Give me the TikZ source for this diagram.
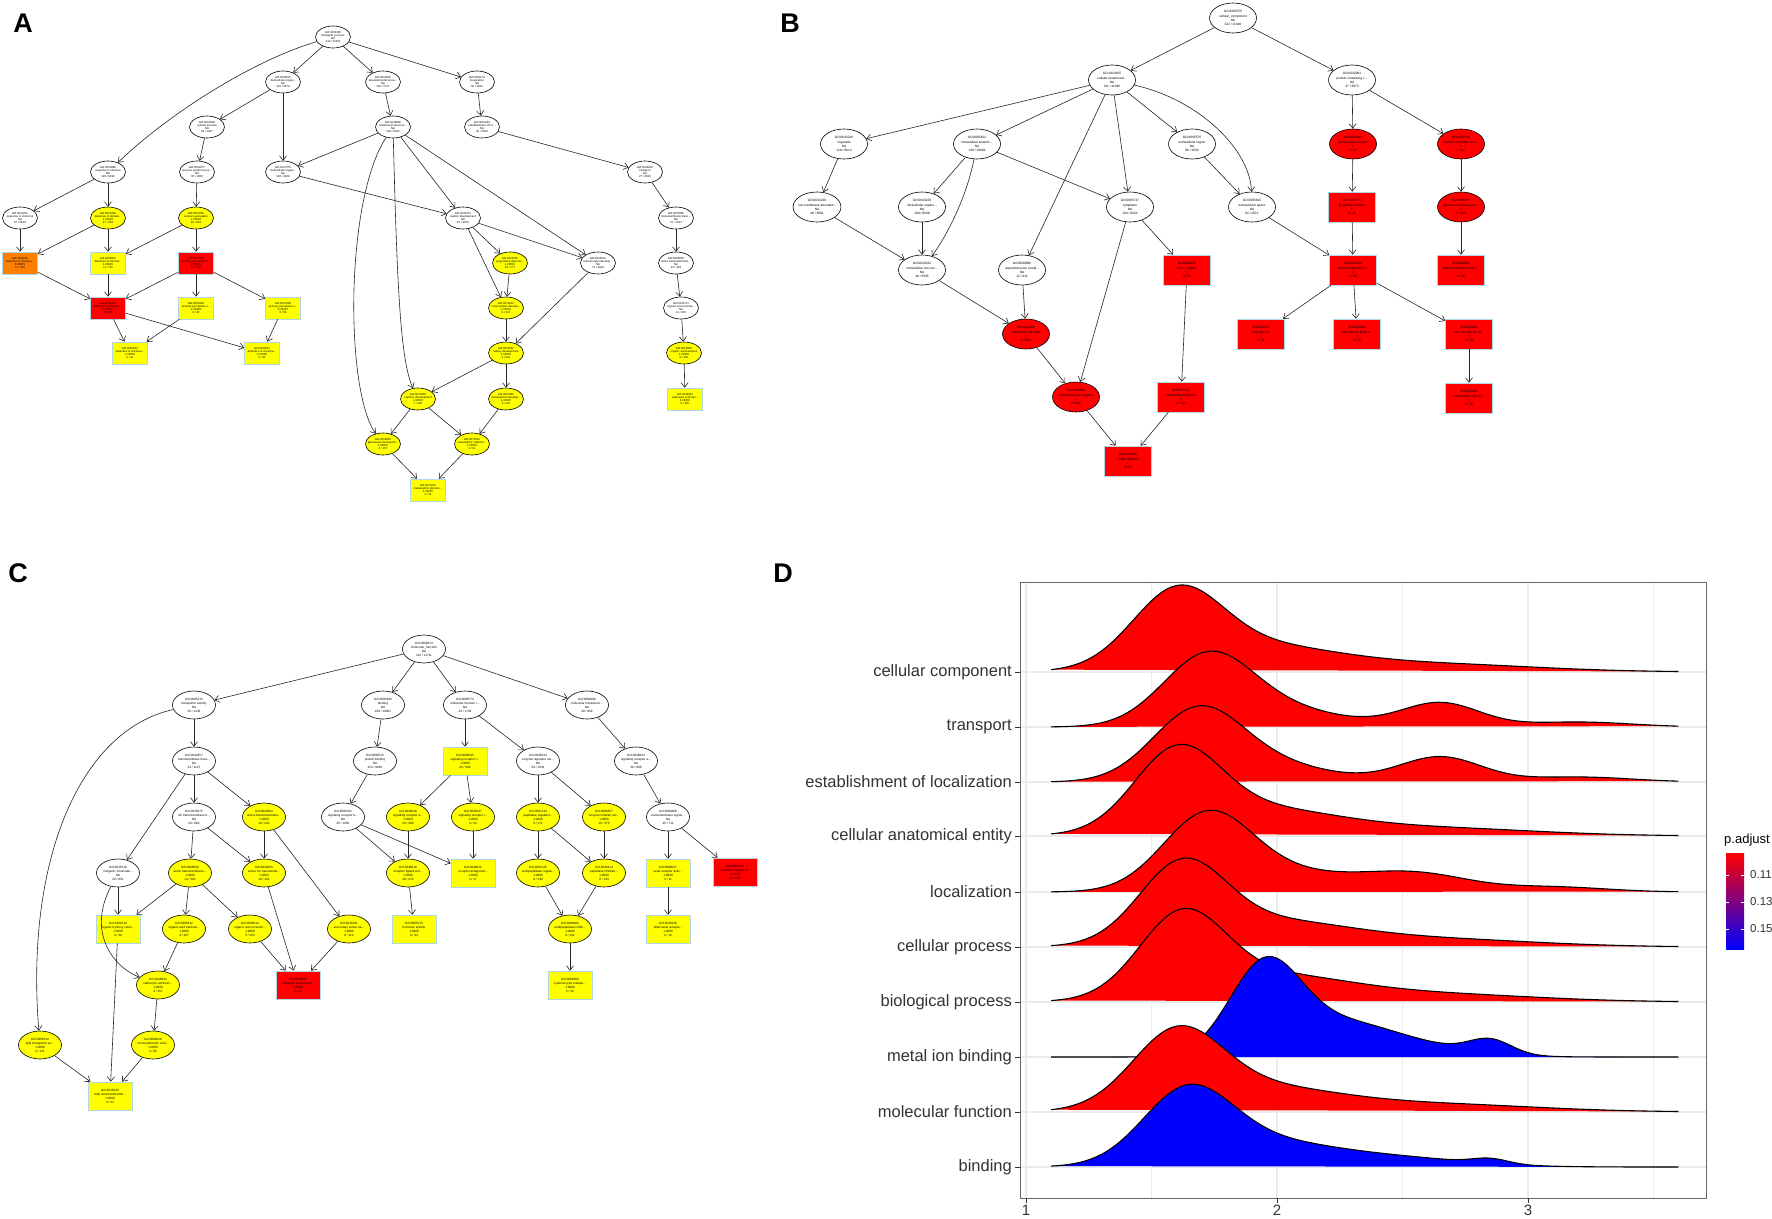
\documentclass[tikz,border=0pt]{standalone}
\usepackage{fontspec}
\setmainfont{Liberation Sans}
\usetikzlibrary{shapes.geometric,arrows.meta}
\definecolor{goyellow}{RGB}{255,255,0}
\definecolor{goorange}{RGB}{255,128,0}
\definecolor{gored}{RGB}{255,0,0}
\definecolor{boxline}{RGB}{173,216,230}
\definecolor{rred}{RGB}{255,0,0}
\definecolor{rblue}{RGB}{0,0,255}
\definecolor{gridgrey}{RGB}{235,235,235}
\definecolor{pmid}{RGB}{196,0,140}
\tikzstyle{goarrow} = [draw=black!85, line width=0.6pt, -{Straight Barb[length=4.5pt,width=7pt]}]
\tikzstyle{ellA} = [ellipse, draw=black, line width=0.6pt, fill=white, minimum width=35pt, minimum height=22pt, inner xsep=-3pt, inner ysep=1pt, align=center, font=\fontsize{2.8}{3.3}\selectfont]
\tikzstyle{boxA} = [rectangle, draw=boxline, line width=0.6pt, minimum width=35pt, minimum height=22pt, inner sep=0pt, align=center, font=\fontsize{2.8}{3.3}\selectfont]
\tikzstyle{ellB} = [ellipse, draw=black, line width=0.6pt, fill=white, minimum width=47pt, minimum height=30pt, inner xsep=-2pt, inner ysep=1pt, align=center, font=\fontsize{3.2}{4.2}\selectfont]
\tikzstyle{boxB} = [rectangle, draw=boxline, line width=0.6pt, fill=gored, minimum width=47pt, minimum height=30pt, inner sep=0pt, align=center, font=\fontsize{3.2}{4.2}\selectfont]
\tikzstyle{ellC} = [ellipse, draw=black, line width=0.6pt, fill=white, minimum width=43pt, minimum height=28pt, inner xsep=-2.5pt, inner ysep=1pt, align=center, font=\fontsize{3.1}{4}\selectfont]
\tikzstyle{boxC} = [rectangle, draw=boxline, line width=0.6pt, fill=goyellow, minimum width=44pt, minimum height=28pt, inner sep=0pt, align=center, font=\fontsize{3.1}{4}\selectfont]
\tikzstyle{panlab} = [inner sep=0pt, font=\fontsize{27}{27}\selectfont\bfseries]
\tikzstyle{redridge} = [draw=black, line width=1.1pt, fill=rred]
\tikzstyle{blueridge} = [draw=black, line width=1.1pt, fill=rblue]
\tikzstyle{gridmajor} = [draw=gridgrey, line width=1.4pt]
\tikzstyle{gridminor} = [draw=gridgrey, line width=0.7pt]
\tikzstyle{ylab} = [anchor=east, inner sep=0pt, text=black!80, font=\fontsize{16.5}{18}\selectfont]
\tikzstyle{xlab} = [anchor=center, inner sep=0pt, text=black!80, font=\fontsize{15}{16}\selectfont]
\tikzstyle{tick} = [draw=black!80, line width=0.8pt]

\begin{document}
\begin{tikzpicture}[x=1pt, y=-1pt, declare function={gau(\t,\m,\s)=exp(-((\t-\m)/\s)*((\t-\m)/\s));}]
	\fill[white] (0,0) rectangle (1772,1218);
	\useasboundingbox (0,0) rectangle (1772,1218);

	% A: biological process
	\node (labA) [panlab] at (23,23) {A};
	\node (bp) [ellA] at (333,37) {GO:0008150\\biological\_process\\NA\\210 / 11378};
	\node (mop) [ellA] at (283,82) {GO:0032501\\multicellular organi...\\NA\\100 / 5676};
	\node (dev) [ellA] at (383,82) {GO:0032502\\developmental proce...\\NA\\115 / 5737};
	\node (loc) [ellA] at (477,82) {GO:0051179\\localization\\NA\\35 / 3260};
	\node (sysp) [ellA] at (207,127) {GO:0003008\\system process\\NA\\34 / 1487};
	\node (asd) [ellA] at (393,127) {GO:0048856\\anatomical structure...\\NA\\106 / 5260};
	\node (estl) [ellA] at (482,127) {GO:0051234\\establishment of loc...\\NA\\29 / 2584};
	\node (rts) [ellA] at (108,172) {GO:0050896\\response to stimulus\\NA\\126 / 6490};
	\node (nsp) [ellA] at (197,172) {GO:0050877\\nervous system proce...\\NA\\30 / 1066};
	\node (mod) [ellA] at (283,172) {GO:0007275\\multicellular organi...\\NA\\100 / 4930};
	\node (trn) [ellA] at (645,172) {GO:0006810\\transport\\NA\\27 / 2526};
	\node (rtc) [ellA] at (20,218) {GO:0042221\\response to chemical\\NA\\57 / 2619};
	\node (dets) [ellA, fill=goyellow] at (108,218) {GO:0051606\\detection of stimulu...\\1.00000\\27 / 259};
	\node (senp) [ellA, fill=goyellow] at (196,218) {GO:0007600\\sensory perception\\1.00000\\29 / 815};
	\node (sysd) [ellA] at (463,218) {GO:0048731\\system development\\NA\\87 / 3876};
	\node (tmt) [ellA] at (676,218) {GO:0055085\\transmembrane trans...\\NA\\21 / 1541};
	\node (dcs) [boxA, fill=goorange] at (20,263) {GO:0009593\\detection of chemica...\\0.08629\\14 / 181};
	\node (dses) [boxA, fill=goyellow] at (108,263) {GO:0009581\\detection of externa...\\0.29620\\14 / 115};
	\node (spc) [boxA, fill=gored] at (196,263) {GO:0007606\\sensory perception o...\\0.01012\\11 / 102};
	\node (ugsd) [ellA, fill=goyellow] at (510,263) {GO:0001655\\urogenital system de...\\1.00000\\10 / 277};
	\node (aod) [ellA] at (598,263) {GO:0048513\\animal organ develop...\\NA\\72 / 2849};
	\node (atr) [ellA] at (676,263) {GO:0098656\\anion transmembrane...\\NA\\12 / 328};
	\node (dcsp) [boxA, fill=gored] at (108,308) {GO:0050907\\detection of chemica...\\0.01050\\10 / 80};
	\node (spt) [boxA, fill=goyellow] at (196,308) {GO:0050909\\sensory perception o...\\0.21958\\6 / 40};
	\node (sps) [boxA, fill=goyellow] at (283,308) {GO:0007608\\sensory perception o...\\0.35457\\5 / 56};
	\node (rsd) [ellA, fill=goyellow] at (506,308) {GO:0072001\\renal system develop...\\1.00000\\9 / 247};
	\node (oat) [ellA] at (681,308) {GO:0015711\\organic anion transp...\\NA\\12 / 435};
	\node (dcst) [boxA, fill=goyellow] at (130,353) {GO:0050912\\detection of chemica...\\1.00000\\3 / 31};
	\node (dcss) [boxA, fill=goyellow] at (262,353) {GO:0050911\\detection of chemica...\\0.27035\\5 / 30};
	\node (kid) [ellA, fill=goyellow] at (506,353) {GO:0001822\\kidney development\\1.00000\\9 / 242};
	\node (orgt) [ellA, fill=goyellow] at (684,353) {GO:0015849\\organic acid transport\\1.00000\\9 / 330};
	\node (nep) [ellA, fill=goyellow] at (418,399) {GO:0072006\\nephron development\\1.00000\\7 / 130};
	\node (mnd) [ellA, fill=goyellow] at (506,399) {GO:0001656\\metanephros develop...\\1.00000\\5 / 110};
	\node (cat) [boxA, fill=goyellow] at (685,399) {GO:0046942\\carboxylic acid tran...\\1.00000\\9 / 325};
	\node (glo) [ellA, fill=goyellow] at (383,444) {GO:0032835\\glomerulus developme...\\1.00000\\4 / 107};
	\node (mnn) [ellA, fill=goyellow] at (472,444) {GO:0072210\\metanephric nephron...\\1.00000\\4 / 61};
	\node (mgd) [boxA, fill=goyellow] at (428,490) {GO:0072224\\metanephric glomeru...\\1.00000\\2 / 14};

	\draw [goarrow] (bp) .. controls (260,58) and (175,108) .. (rts);
	\draw [goarrow] (bp) -- (mop);
	\draw [goarrow] (bp) -- (dev);
	\draw [goarrow] (bp) -- (loc);
	\draw [goarrow] (mop) -- (sysp);
	\draw [goarrow] (mop) -- (mod);
	\draw [goarrow] (dev) -- (asd);
	\draw [goarrow] (loc) -- (estl);
	\draw [goarrow] (sysp) -- (nsp);
	\draw [goarrow] (asd) -- (mod);
	\draw [goarrow] (asd) -- (sysd);
	\draw [goarrow] (asd) -- (aod);
	\draw [goarrow] (asd) .. controls (345,200) and (345,390) .. (glo);
	\draw [goarrow] (asd) .. controls (397,280) and (400,360) .. (nep);
	\draw [goarrow] (estl) -- (trn);
	\draw [goarrow] (rts) -- (rtc);
	\draw [goarrow] (rts) -- (dets);
	\draw [goarrow] (nsp) -- (senp);
	\draw [goarrow] (mod) -- (sysd);
	\draw [goarrow] (sysd) -- (aod);
	\draw [goarrow] (sysd) -- (ugsd);
	\draw [goarrow] (sysd) -- (rsd);
	\draw [goarrow] (trn) -- (tmt);
	\draw [goarrow] (tmt) -- (atr);
	\draw [goarrow] (atr) -- (oat);
	\draw [goarrow] (oat) -- (orgt);
	\draw [goarrow] (orgt) -- (cat);
	\draw [goarrow] (rtc) -- (dcs);
	\draw [goarrow] (dets) -- (dcs);
	\draw [goarrow] (dets) -- (dses);
	\draw [goarrow] (senp) -- (dses);
	\draw [goarrow] (senp) -- (spc);
	\draw [goarrow] (aod) -- (kid);
	\draw [goarrow] (ugsd) -- (rsd);
	\draw [goarrow] (dcs) -- (dcsp);
	\draw [goarrow] (dses) -- (dcsp);
	\draw [goarrow] (spc) -- (dcsp);
	\draw [goarrow] (spc) -- (spt);
	\draw [goarrow] (spc) -- (sps);
	\draw [goarrow] (rsd) -- (kid);
	\draw [goarrow] (dcsp) -- (dcst);
	\draw [goarrow] (dcsp) -- (dcss);
	\draw [goarrow] (spt) -- (dcst);
	\draw [goarrow] (sps) -- (dcss);
	\draw [goarrow] (kid) -- (nep);
	\draw [goarrow] (kid) -- (mnd);
	\draw [goarrow] (nep) -- (glo);
	\draw [goarrow] (nep) -- (mnn);
	\draw [goarrow] (mnd) -- (mnn);
	\draw [goarrow] (glo) -- (mgd);
	\draw [goarrow] (mnn) -- (mgd);

	% B: cellular component
	\node (labB) [panlab] at (790,23) {B};
	\node (cc) [ellB] at (1233,18) {GO:0005575\\cellular\_component\\NA\\222 / 11840};
	\node (cae) [ellB] at (1112,80) {GO:0110165\\cellular anatomical...\\NA\\211 / 11346};
	\node (pcc) [ellB] at (1352,80) {GO:0032991\\protein-containing c...\\NA\\47 / 3973};
	\node (org) [ellB] at (844,144) {GO:0043226\\organelle\\NA\\120 / 9613};
	\node (iae) [ellB] at (977,144) {GO:0005622\\intracellular anatom...\\NA\\138 / 10039};
	\node (exr) [ellB] at (1192,144) {GO:0005576\\extracellular region\\NA\\86 / 3030};
	\node (plc) [ellB, fill=gored] at (1353,144) {GO:0032994\\protein-lipid complex\\1\\3 / 32};
	\node (mpc) [ellB, fill=gored] at (1461,144) {GO:0098796\\membrane protein com...\\1\\7 / 847};
	\node (nmo) [ellB] at (817,207) {GO:0043228\\non-membrane-bounded...\\NA\\49 / 3601};
	\node (ino) [ellB] at (922,207) {GO:0043229\\intracellular organe...\\NA\\108 / 8939};
	\node (cyt) [ellB] at (1130,207) {GO:0005737\\cytoplasm\\NA\\103 / 8424};
	\node (exs) [ellB] at (1252,207) {GO:0005615\\extracellular space\\NA\\62 / 2511};
	\node (lpp) [boxB] at (1352,207) {GO:1990777\\lipoprotein particle\\1\\3 / 30};
	\node (pmp) [ellB, fill=gored] at (1461,207) {GO:0098797\\plasma membrane prot...\\1\\5 / 392};
	\node (inm) [ellB] at (922,270) {GO:0043232\\intracellular non-me...\\NA\\49 / 3595};
	\node (smc) [ellB] at (1022,270) {GO:0099080\\supramolecular compl...\\NA\\12 / 911};
	\node (por) [boxB] at (1187,270) {GO:0046930\\pore complex\\1\\4 / 51};
	\node (plp) [boxB] at (1353,270) {GO:0034358\\plasma lipoprotein p...\\1\\3 / 28};
	\node (pms) [boxB] at (1461,270) {GO:0098802\\plasma membrane sign...\\1\\4 / 96};
	\node (smf) [ellB, fill=gored] at (1026,334) {GO:0099512\\supramolecular fiber\\1\\8 / 680};
	\node (chy) [boxB] at (1261,334) {GO:0042627\\chylomicron\\1\\3 / 11};
	\node (hdl) [boxB] at (1357,334) {GO:0034364\\high-density lipopro...\\1\\3 / 22};
	\node (vld) [boxB] at (1469,334) {GO:0034361\\very-low-density lip...\\1\\3 / 14};
	\node (smp) [ellB, fill=gored] at (1076,397) {GO:0099081\\supramolecular polymer\\1\\8 / 682};
	\node (imf) [boxB] at (1181,397) {GO:0005882\\intermediate filament\\1\\4 / 104};
	\node (ldl) [boxB] at (1469,398) {GO:0034363\\intermediate-density...\\1\\2 / 12};
	\node (ker) [boxB] at (1128,461) {GO:0045095\\keratin filament\\1\\3 / 92};

	\draw [goarrow] (cc) -- (cae);
	\draw [goarrow] (cc) -- (pcc);
	\draw [goarrow] (cae) -- (org);
	\draw [goarrow] (cae) -- (iae);
	\draw [goarrow] (cae) -- (cyt);
	\draw [goarrow] (cae) -- (exr);
	\draw [goarrow] (cae) -- (smc);
	\draw [goarrow] (cae) .. controls (1200,100) and (1250,150) .. (exs);
	\draw [goarrow] (pcc) -- (plc);
	\draw [goarrow] (pcc) -- (mpc);
	\draw [goarrow] (org) -- (nmo);
	\draw [goarrow] (iae) -- (ino);
	\draw [goarrow] (iae) -- (cyt);
	\draw [goarrow] (iae) .. controls (968,190) and (952,228) .. (inm);
	\draw [goarrow] (exr) -- (exs);
	\draw [goarrow] (plc) -- (lpp);
	\draw [goarrow] (mpc) -- (pmp);
	\draw [goarrow] (nmo) -- (inm);
	\draw [goarrow] (ino) -- (inm);
	\draw [goarrow] (cyt) -- (por);
	\draw [goarrow] (cyt) -- (smp);
	\draw [goarrow] (exs) -- (plp);
	\draw [goarrow] (lpp) -- (plp);
	\draw [goarrow] (pmp) -- (pms);
	\draw [goarrow] (inm) -- (smf);
	\draw [goarrow] (smc) -- (smf);
	\draw [goarrow] (plp) -- (chy);
	\draw [goarrow] (plp) -- (hdl);
	\draw [goarrow] (plp) -- (vld);
	\draw [goarrow] (smf) -- (smp);
	\draw [goarrow] (por) -- (imf);
	\draw [goarrow] (vld) -- (ldl);
	\draw [goarrow] (smp) -- (ker);
	\draw [goarrow] (imf) -- (ker);

	% C: molecular function
	\node (labC) [panlab] at (18,573) {C};
	\node (mfn) [ellC] at (424,649) {GO:0003674\\molecular\_function\\NA\\212 / 11711};
	\node (trac) [ellC] at (194,705) {GO:0005215\\transporter activity\\NA\\25 / 1236};
	\node (bind) [ellC] at (383,705) {GO:0005488\\binding\\NA\\160 / 10001};
	\node (mfreg) [ellC] at (465,705) {GO:0098772\\molecular function r...\\NA\\43 / 1743};
	\node (mtrd) [ellC] at (587,705) {GO:0060089\\molecular transducer...\\NA\\30 / 869};
	\node (tmtr) [ellC] at (194,761) {GO:0022857\\transmembrane trans...\\NA\\23 / 1147};
	\node (pbind) [ellC] at (375,761) {GO:0005515\\protein binding\\NA\\153 / 9665};
	\node (rreg) [boxC] at (465,761) {GO:0030545\\signaling receptor r...\\1.0000\\25 / 399};
	\node (ereg) [ellC] at (538,761) {GO:0030234\\enzyme regulator act...\\NA\\54 / 1034};
	\node (sigr) [ellC] at (636,761) {GO:0038023\\signaling receptor a...\\NA\\30 / 809};
	\node (iontr) [ellC] at (194,817) {GO:0015075\\ion transmembrane tr...\\NA\\20 / 884};
	\node (acttr) [ellC, fill=goyellow] at (264,817) {GO:0022804\\active transmembrane...\\1.0000\\10 / 224};
	\node (srb) [ellC] at (343,817) {GO:0005102\\signaling receptor b...\\NA\\45 / 1050};
	\node (sraa) [ellC, fill=goyellow] at (408,817) {GO:0030546\\signaling receptor a...\\1.0000\\20 / 300};
	\node (rinh) [ellC, fill=goyellow] at (473,817) {GO:0030547\\signaling receptor i...\\1.0000\\3 / 23};
	\node (preg) [ellC, fill=goyellow] at (538,817) {GO:0061134\\peptidase regulator...\\1.0000\\9 / 171};
	\node (einh) [ellC, fill=goyellow] at (604,817) {GO:0004857\\enzyme inhibitor act...\\1.0000\\10 / 375};
	\node (tmsr) [ellC] at (668,817) {GO:0004888\\transmembrane signal...\\NA\\25 / 711};
	\node (gpcr) [boxC, fill=gored] at (735,872) {GO:0004930\\G protein-coupled re...\\0.0430\\22 / 585};
	\node (inorg) [ellC] at (118,873) {GO:0015318\\inorganic molecular...\\NA\\20 / 651};
	\node (aniont) [ellC, fill=goyellow] at (190,873) {GO:0008509\\anion transmembrane...\\1.0000\\14 / 302};
	\node (actiont) [ellC, fill=goyellow] at (264,873) {GO:0022853\\active ion transmemb...\\1.0000\\10 / 161};
	\node (rlig) [ellC, fill=goyellow] at (408,873) {GO:0048018\\receptor ligand acti...\\1.0000\\20 / 274};
	\node (rant) [boxC] at (473,873) {GO:0048019\\receptor antagonist...\\1.0000\\3 / 17};
	\node (epreg) [ellC, fill=goyellow] at (538,873) {GO:0061135\\endopeptidase regula...\\1.0000\\8 / 140};
	\node (pinh) [ellC, fill=goyellow] at (604,873) {GO:0030414\\peptidase inhibitor...\\1.0000\\8 / 133};
	\node (taste) [boxC] at (668,873) {GO:0008527\\taste receptor activ...\\1.0000\\3 / 11};
	\node (ohc) [boxC] at (118,929) {GO:1901618\\organic hydroxy comp...\\1.0000\\4 / 39};
	\node (oatr) [ellC, fill=goyellow] at (184,929) {GO:0005342\\organic acid transme...\\1.0000\\4 / 167};
	\node (oant) [ellC, fill=goyellow] at (250,929) {GO:0008514\\organic anion transm...\\1.0000\\5 / 223};
	\node (secact) [ellC, fill=goyellow] at (349,929) {GO:0015291\\secondary active tra...\\1.0000\\8 / 113};
	\node (horm) [boxC] at (414,929) {GO:0005179\\hormone activity\\1.0000\\9 / 94};
	\node (epinh) [ellC, fill=goyellow] at (570,929) {GO:0004866\\endopeptidase inhibi...\\1.0000\\8 / 131};
	\node (bitter) [boxC] at (668,929) {GO:0033038\\bitter taste recepto...\\1.0000\\2 / 10};
	\node (carbt) [ellC, fill=goyellow] at (158,985) {GO:0046943\\carboxylic acid tran...\\1.0000\\4 / 157};
	\node (xeno) [boxC, fill=gored] at (298,985) {GO:0042910\\xenobiotic transmemb...\\0.0593\\3 / 13};
	\node (cysinh) [boxC] at (570,985) {GO:0004869\\cysteine-type endope...\\1.0000\\5 / 45};
	\node (lipt) [ellC, fill=goyellow] at (40,1045) {GO:0005319\\lipid transporter ac...\\1.0000\\4 / 131};
	\node (mcat) [ellC, fill=goyellow] at (153,1045) {GO:0008028\\monocarboxylic acid...\\1.0000\\3 / 66};
	\node (fatt) [boxC] at (110,1096) {GO:0015245\\fatty acid transmemb...\\1.0000\\3 / 33};

	\draw [goarrow] (mfn) -- (trac);
	\draw [goarrow] (mfn) -- (bind);
	\draw [goarrow] (mfn) -- (mfreg);
	\draw [goarrow] (mfn) -- (mtrd);
	\draw [goarrow] (trac) -- (tmtr);
	\draw [goarrow] (trac) .. controls (80,730) and (25,860) .. (lipt);
	\draw [goarrow] (bind) -- (pbind);
	\draw [goarrow] (mfreg) -- (rreg);
	\draw [goarrow] (mfreg) -- (ereg);
	\draw [goarrow] (mtrd) -- (sigr);
	\draw [goarrow] (tmtr) -- (iontr);
	\draw [goarrow] (tmtr) -- (acttr);
	\draw [goarrow] (tmtr) -- (inorg);
	\draw [goarrow] (pbind) -- (srb);
	\draw [goarrow] (rreg) -- (sraa);
	\draw [goarrow] (rreg) -- (rinh);
	\draw [goarrow] (ereg) -- (preg);
	\draw [goarrow] (ereg) -- (einh);
	\draw [goarrow] (sigr) -- (tmsr);
	\draw [goarrow] (iontr) -- (aniont);
	\draw [goarrow] (iontr) -- (actiont);
	\draw [goarrow] (acttr) -- (actiont);
	\draw [goarrow] (acttr) -- (secact);
	\draw [goarrow] (srb) -- (rlig);
	\draw [goarrow] (srb) -- (rant);
	\draw [goarrow] (sraa) -- (rlig);
	\draw [goarrow] (rinh) -- (rant);
	\draw [goarrow] (preg) -- (epreg);
	\draw [goarrow] (preg) -- (pinh);
	\draw [goarrow] (einh) -- (pinh);
	\draw [goarrow] (tmsr) -- (taste);
	\draw [goarrow] (tmsr) -- (gpcr);
	\draw [goarrow] (inorg) -- (ohc);
	\draw [goarrow] (inorg) .. controls (88,930) and (110,965) .. (carbt);
	\draw [goarrow] (aniont) -- (ohc);
	\draw [goarrow] (aniont) -- (oatr);
	\draw [goarrow] (aniont) -- (oant);
	\draw [goarrow] (actiont) -- (xeno);
	\draw [goarrow] (rlig) -- (horm);
	\draw [goarrow] (epreg) -- (epinh);
	\draw [goarrow] (pinh) -- (epinh);
	\draw [goarrow] (taste) -- (bitter);
	\draw [goarrow] (oatr) -- (carbt);
	\draw [goarrow] (oant) -- (xeno);
	\draw [goarrow] (secact) -- (xeno);
	\draw [goarrow] (epinh) -- (cysinh);
	\draw [goarrow] (carbt) -- (mcat);
	\draw [goarrow] (ohc) -- (fatt);
	\draw [goarrow] (lipt) -- (fatt);
	\draw [goarrow] (mcat) -- (fatt);

	% D: ridgeline plot
	\node (labD) [panlab] at (783,573) {D};
	\draw[gridminor] (1151.5,582) -- (1151.5,1198);
	\draw[gridminor] (1402.5,582) -- (1402.5,1198);
	\draw[gridminor] (1653.5,582) -- (1653.5,1198);
	\draw[gridmajor] (1026,582) -- (1026,1198);
	\draw[gridmajor] (1277,582) -- (1277,1198);
	\draw[gridmajor] (1528,582) -- (1528,1198);
	\draw[gridmajor] (1020,672) -- (1706,672);
	\draw[gridmajor] (1020,727) -- (1706,727);
	\draw[gridmajor] (1020,782) -- (1706,782);
	\draw[gridmajor] (1020,836) -- (1706,836);
	\draw[gridmajor] (1020,892) -- (1706,892);
	\draw[gridmajor] (1020,947) -- (1706,947);
	\draw[gridmajor] (1020,1002) -- (1706,1002);
	\draw[gridmajor] (1020,1057) -- (1706,1057);
	\draw[gridmajor] (1020,1112) -- (1706,1112);
	\draw[gridmajor] (1020,1167) -- (1706,1167);

	\draw [redridge] plot [domain=1.1:3.6, samples=126] ({1026+251*(\x-1)}, {672-70*gau(\x,1.6,0.25)-25*gau(\x,1.9,0.45)-8*gau(\x,2.6,0.6)});
	\draw [redridge] plot [domain=1.1:3.6, samples=126] ({1026+251*(\x-1)}, {727-66*gau(\x,1.72,0.25)-18*gau(\x,2.0,0.35)-24*gau(\x,2.65,0.22)-5*gau(\x,3.2,0.3)});
	\draw [redridge] plot [domain=1.1:3.6, samples=126] ({1026+251*(\x-1)}, {782-66*gau(\x,1.68,0.25)-18*gau(\x,1.95,0.35)-25*gau(\x,2.65,0.23)-5*gau(\x,3.2,0.3)});
	\draw [redridge] plot [domain=1.1:3.6, samples=126] ({1026+251*(\x-1)}, {836-74*gau(\x,1.6,0.24)-26*gau(\x,1.9,0.45)-8*gau(\x,2.6,0.6)});
	\draw [redridge] plot [domain=1.1:3.6, samples=126] ({1026+251*(\x-1)}, {892-74*gau(\x,1.72,0.25)-18*gau(\x,2.05,0.35)-18*gau(\x,2.55,0.3)-5*gau(\x,3.1,0.3)});
	\draw [redridge] plot [domain=1.1:3.6, samples=126] ({1026+251*(\x-1)}, {947-74*gau(\x,1.62,0.24)-24*gau(\x,1.95,0.45)-8*gau(\x,2.6,0.6)});
	\draw [redridge] plot [domain=1.1:3.6, samples=126] ({1026+251*(\x-1)}, {1002-78*gau(\x,1.62,0.24)-25*gau(\x,1.95,0.45)-8*gau(\x,2.6,0.6)});
	\draw [blueridge] plot [domain=1.1:3.6, samples=126] ({1026+251*(\x-1)}, {1057-88*gau(\x,1.95,0.2)-32*gau(\x,2.25,0.3)-8*gau(\x,2.6,0.3)-14*gau(\x,2.85,0.12)});
	\draw [redridge] plot [domain=1.1:3.6, samples=126] ({1026+251*(\x-1)}, {1112-70*gau(\x,1.6,0.25)-24*gau(\x,1.9,0.45)-8*gau(\x,2.6,0.6)});
	\draw [blueridge] plot [domain=1.1:3.6, samples=126] ({1026+251*(\x-1)}, {1167-69*gau(\x,1.64,0.25)-24*gau(\x,1.95,0.4)-8*gau(\x,2.5,0.4)-5*gau(\x,2.85,0.1)});

	\draw[draw=black!60, line width=0.8pt] (1020,582) rectangle (1706,1198);

	\node (ycc) [ylab] at (1012,672) {cellular component};
	\node (ytr) [ylab] at (1012,727) {transport};
	\node (yel) [ylab] at (1012,782) {establishment of localization};
	\node (yca) [ylab] at (1012,836) {cellular anatomical entity};
	\node (ylo) [ylab] at (1012,892) {localization};
	\node (ycp) [ylab] at (1012,947) {cellular process};
	\node (ybp) [ylab] at (1012,1002) {biological process};
	\node (ymi) [ylab] at (1012,1057) {metal ion binding};
	\node (ymf) [ylab] at (1012,1112) {molecular function};
	\node (ybi) [ylab] at (1012,1167) {binding};
	\draw[tick] (1015,672) -- (1020,672);
	\draw[tick] (1015,727) -- (1020,727);
	\draw[tick] (1015,782) -- (1020,782);
	\draw[tick] (1015,836) -- (1020,836);
	\draw[tick] (1015,892) -- (1020,892);
	\draw[tick] (1015,947) -- (1020,947);
	\draw[tick] (1015,1002) -- (1020,1002);
	\draw[tick] (1015,1057) -- (1020,1057);
	\draw[tick] (1015,1112) -- (1020,1112);
	\draw[tick] (1015,1167) -- (1020,1167);
	\draw[tick] (1026,1198) -- (1026,1203);
	\draw[tick] (1277,1198) -- (1277,1203);
	\draw[tick] (1528,1198) -- (1528,1203);
	\node (x1) [xlab] at (1026,1210) {1};
	\node (x2) [xlab] at (1277,1210) {2};
	\node (x3) [xlab] at (1528,1210) {3};

	\node (legt) [anchor=west, inner sep=0pt, font=\fontsize{13}{14}\selectfont] at (1724,840) {p.adjust};
	\shade[top color=rred, middle color=pmid, bottom color=rblue] (1726,853) rectangle (1744,949);
	\draw[white, line width=0.8pt] (1726,875) -- (1729,875) (1741,875) -- (1744,875);
	\draw[white, line width=0.8pt] (1726,902) -- (1729,902) (1741,902) -- (1744,902);
	\draw[white, line width=0.8pt] (1726,929) -- (1729,929) (1741,929) -- (1744,929);
	\node (l11) [anchor=west, inner sep=0pt, text=black!80, font=\fontsize{11.5}{12}\selectfont] at (1750,875) {0.11};
	\node (l13) [anchor=west, inner sep=0pt, text=black!80, font=\fontsize{11.5}{12}\selectfont] at (1750,902) {0.13};
	\node (l15) [anchor=west, inner sep=0pt, text=black!80, font=\fontsize{11.5}{12}\selectfont] at (1750,929) {0.15};
\end{tikzpicture}
\end{document}
